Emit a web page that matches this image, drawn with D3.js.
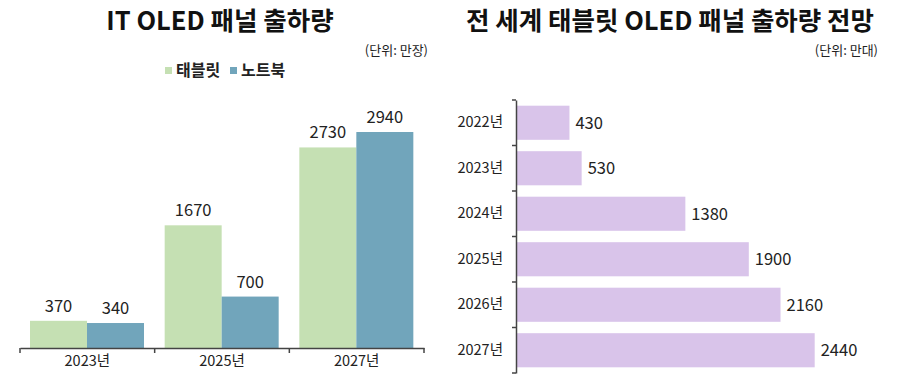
<!DOCTYPE html>
<html><head><meta charset="utf-8">
<script src="https://cdn.jsdelivr.net/npm/d3@7"></script>
<style>body{margin:0;background:#fff;} text{font-family:"Noto Sans CJK KR","Noto Sans",sans-serif;}</style>
</head><body>
<svg id="c" width="922" height="377"></svg>
<script>
const leftCategories = ["2023년", "2025년", "2027년"];
const leftSeries = ["태블릿", "노트북"];
const tabletValues = [370, 1670, 2730];
const notebookValues = [340, 700, 2940];
const rightCategories = ["2022년", "2023년", "2024년", "2025년", "2026년", "2027년"];
const rightValues = [430, 530, 1380, 1900, 2160, 2440];

const colors = ["#c5e0b3", "#71a5bb"];
const purple = "#d9c4ea";
const svg = d3.select("#c");
const FF = '"Noto Sans CJK KR","Noto Sans",sans-serif';

// ---- Left chart ----
svg.append("text").attr("x", 220).attr("y", 30).attr("text-anchor", "middle")
  .attr("font-size", 25.5).attr("font-weight", "bold").attr("fill", "#111").text("IT OLED 패널 출하량");
svg.append("text").attr("x", 428).attr("y", 55).attr("text-anchor", "end")
  .attr("font-size", 13).attr("fill", "#222").text("(단위: 만장)");

const legend = svg.append("g");
const legX = [165, 230];
leftSeries.forEach((s, i) => {
  legend.append("rect").attr("x", legX[i]).attr("y", 67).attr("width", 7).attr("height", 7).attr("fill", colors[i]);
  legend.append("text").attr("x", legX[i] + 11).attr("y", 76).attr("font-size", 16).attr("font-weight", "bold")
    .attr("fill", "#222").text(s);
});

const x0 = d3.scaleBand().domain(leftCategories).range([20, 424]).paddingInner(0).paddingOuter(0);
const x1 = d3.scaleBand().domain(leftSeries).range([10, 124]).padding(0);
const y = d3.scaleLinear().domain([0, 3000]).range([348, 127.6]);

const data = leftCategories.map((c, i) => ({cat: c, vals: [tabletValues[i], notebookValues[i]]}));
const groups = svg.append("g").selectAll("g").data(data).join("g")
  .attr("transform", d => `translate(${x0(d.cat)},0)`);
groups.selectAll("rect").data(d => d.vals.map((v, j) => ({s: leftSeries[j], v, j}))).join("rect")
  .attr("x", d => x1(d.s)).attr("width", x1.bandwidth())
  .attr("y", d => y(d.v)).attr("height", d => y(0) - y(d.v)).attr("fill", d => colors[d.j]);
groups.selectAll("text.val").data(d => d.vals.map((v, j) => ({s: leftSeries[j], v, j}))).join("text")
  .attr("class", "val").attr("x", d => x1(d.s) + x1.bandwidth() / 2).attr("y", d => y(d.v) - 9)
  .attr("text-anchor", "middle").attr("font-size", 16.5).attr("fill", "#222").text(d => d.v);

const xAxis = svg.append("g").attr("transform", "translate(0,348)")
  .call(d3.axisBottom(x0).tickSize(0).tickSizeOuter(0));
xAxis.select(".domain").attr("stroke", "#444").attr("stroke-width", 1.5);
xAxis.selectAll("text").attr("font-size", 14.5).attr("fill", "#222").attr("dy", "1.0em")
  .style("font-family", FF);
const bounds = leftCategories.map(c => x0(c)).concat([x0.range()[1]]);
xAxis.selectAll("line.bt").data(bounds).join("line").attr("class", "bt")
  .attr("x1", d => d).attr("x2", d => d).attr("y1", 0).attr("y2", 5).attr("stroke", "#444").attr("stroke-width", 1.5);

// ---- Right chart ----
svg.append("text").attr("x", 670).attr("y", 30).attr("text-anchor", "middle")
  .attr("font-size", 25.5).attr("font-weight", "bold").attr("fill", "#111").text("전 세계 태블릿 OLED 패널 출하량 전망");
svg.append("text").attr("x", 878).attr("y", 55).attr("text-anchor", "end")
  .attr("font-size", 13).attr("fill", "#222").text("(단위: 만대)");

const yb = d3.scaleBand().domain(rightCategories).range([100, 373]).paddingInner(0.25).paddingOuter(0.125);
const xr = d3.scaleLinear().domain([0, 2500]).range([517, 822]);

svg.append("g").selectAll("rect").data(rightValues).join("rect")
  .attr("x", xr(0)).attr("y", (d, i) => yb(rightCategories[i])).attr("height", yb.bandwidth())
  .attr("width", d => xr(d) - xr(0)).attr("fill", purple);
svg.append("g").selectAll("text").data(rightValues).join("text")
  .attr("x", d => xr(d) + 6).attr("y", (d, i) => yb(rightCategories[i]) + yb.bandwidth() / 2)
  .attr("dy", "0.36em").attr("font-size", 16.5).attr("fill", "#222").text(d => d);

const yAxis = svg.append("g").attr("transform", "translate(516,0)")
  .call(d3.axisLeft(yb).tickSize(0).tickSizeOuter(0).tickPadding(13));
yAxis.select(".domain").attr("stroke", "#444").attr("stroke-width", 1.5);
yAxis.selectAll("text").attr("font-size", 14.5).attr("fill", "#222")
  .style("font-family", FF);
const rb = d3.range(rightCategories.length + 1).map(i => 100 + i * (273 / rightCategories.length));
yAxis.selectAll("line.bt").data(rb).join("line").attr("class", "bt")
  .attr("x1", -4).attr("x2", 0).attr("y1", d => d).attr("y2", d => d).attr("stroke", "#444").attr("stroke-width", 1.5);
</script>
</body></html>
